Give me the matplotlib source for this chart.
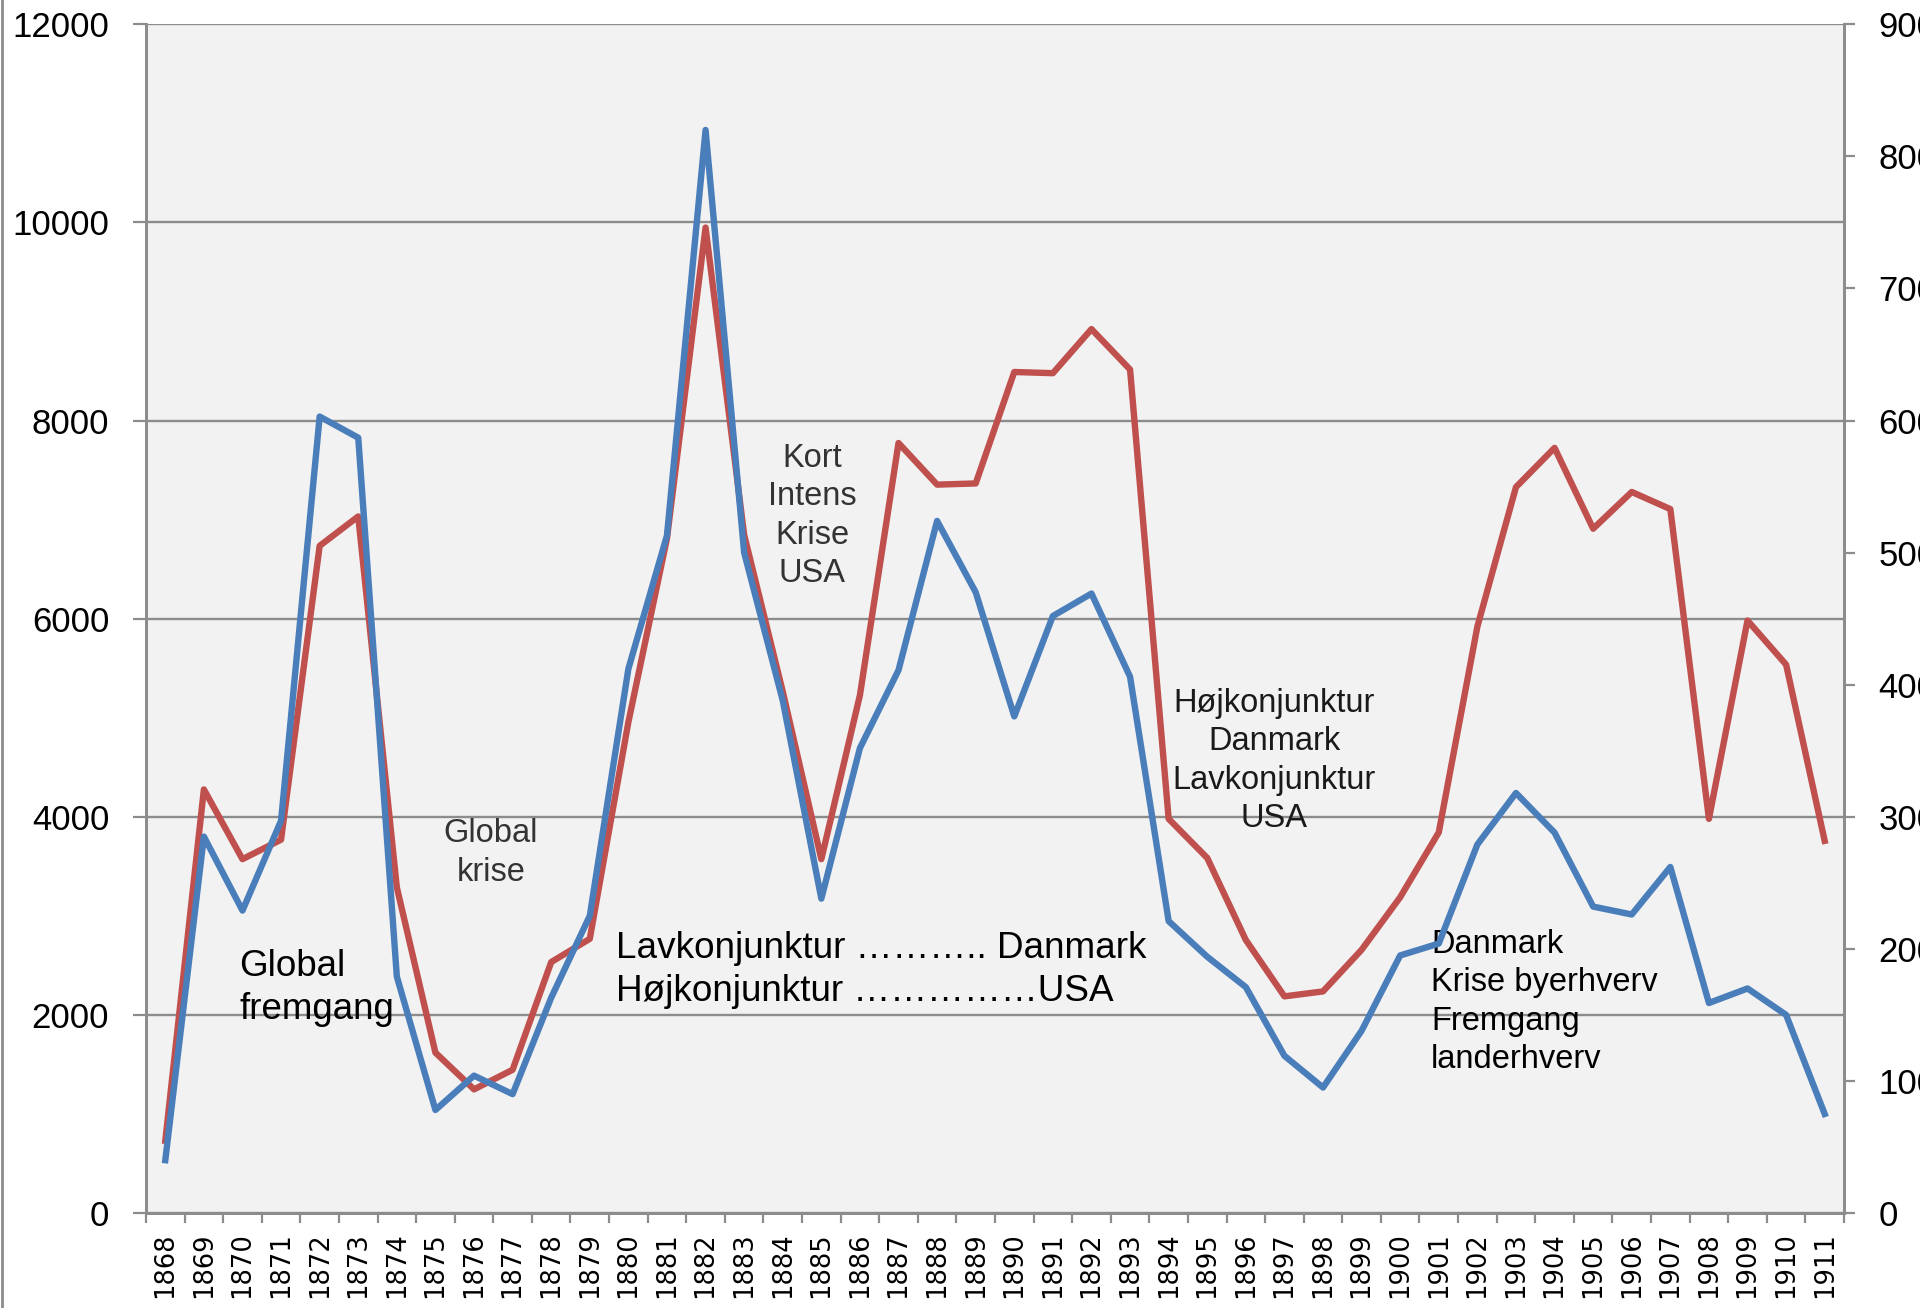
import matplotlib.pyplot as plt
import numpy as np
from matplotlib.lines import Line2D

# Data
years = list(range(1868, 1912))

# red series, left axis (0-12000)
red_vals = [729, 4276, 3572, 3769, 6735, 7032, 3287, 1619, 1248, 1446,
            2533, 2768, 4956, 6809, 9948, 6846, 5264, 3572, 5227, 7773,
            7353, 7365, 8490, 8478, 8923, 8515, 3979, 3584, 2756, 2187,
            2237, 2657, 3188, 3843, 5920, 7328, 7724, 6908, 7279, 7106,
            3979, 5981, 5536, 3757]

# blue series, right axis (0-900)
blue_vals = [40, 285, 229, 297, 603, 587, 179, 78, 104, 90,
             163, 225, 412, 513, 820, 500, 388, 238, 352, 411,
             524, 470, 376, 452, 469, 406, 221, 194, 171, 119,
             95, 138, 195, 204, 279, 318, 288, 232, 226, 262,
             159, 170, 150, 75]

left_ticks = [0, 2000, 4000, 6000, 8000, 10000, 12000]
right_ticks = [0, 100, 200, 300, 400, 500, 600, 700, 800, 900]

RED = "#C0504D"
BLUE = "#4A7EBB"
GRID = "#8C8C8C"
BG = "#F2F2F2"
TEXT_FONT = ["Liberation Sans", "DejaVu Sans"]

fig = plt.figure(figsize=(19.2, 13.08), dpi=100)
ax = fig.add_axes([0.07604, 0.07263, 0.88437, 0.90879])
ax.set_facecolor(BG)

x = np.arange(len(years))
ax.plot(x, red_vals, color=RED, lw=4.6)

ax.set_xlim(-0.5, len(years) - 0.5)
ax.set_ylim(0, 12000)
ax.set_yticks(left_ticks)
ax.set_yticklabels([str(v) for v in left_ticks], fontsize=25, family=TEXT_FONT)
ax.yaxis.grid(True, color=GRID, lw=1.7)
ax.set_axisbelow(True)

# category ticks between years, labels centred on years
ax.set_xticks(np.arange(-0.5, len(years), 1))
ax.set_xticklabels([])
ax.set_xticks(x, minor=True)
ax.set_xticklabels([str(y) for y in years], minor=True, rotation=90,
                   fontsize=18.5, family="DejaVu Sans")
ax.tick_params(axis="x", which="major", length=7, width=1.6, color=GRID)
ax.tick_params(axis="x", which="minor", length=0, pad=14)
ax.tick_params(axis="y", length=9.5, width=1.6, color=GRID, pad=17)

for side in ["left", "bottom", "right"]:
    ax.spines[side].set_color(GRID)
    ax.spines[side].set_linewidth(2)
ax.spines["top"].set_visible(False)

ax2 = ax.twinx()
ax2.plot(x, blue_vals, color=BLUE, lw=4.6)
ax2.set_ylim(0, 900)
ax2.set_yticks(right_ticks)
ax2.set_yticklabels([str(v) for v in right_ticks], fontsize=25, family=TEXT_FONT)
ax2.tick_params(axis="y", length=8, width=1.6, color=GRID, pad=17)
for side in ["left", "bottom", "right"]:
    ax2.spines[side].set_color(GRID)
    ax2.spines[side].set_linewidth(2)
ax2.spines["top"].set_visible(False)

# annotations
ax.text(1.91, 2271, "Global\nfremgang", ha="left", va="center",
        fontsize=26.5, family=TEXT_FONT, linespacing=1.3)
ax.text(8.44, 3634, "Global\nkrise", ha="center", va="center",
        fontsize=23.5, family=TEXT_FONT, color="#333333", linespacing=1.3)
ax.text(16.76, 7036, "Kort\nIntens\nKrise\nUSA", ha="center", va="center",
        fontsize=23.5, family=TEXT_FONT, color="#333333", linespacing=1.3)
ax.text(11.68, 2453,
        "Lavkonjunktur \u2026\u2026\u2026.. Danmark\nH\u00f8jkonjunktur \u2026\u2026\u2026\u2026\u2026USA",
        ha="left", va="center", fontsize=26.6, family=TEXT_FONT, linespacing=1.3)
ax.text(28.73, 4563, "H\u00f8jkonjunktur\nDanmark\nLavkonjunktur\nUSA",
        ha="center", va="center", fontsize=23.5, family=TEXT_FONT,
        color="#1a1a1a", linespacing=1.3)
ax.text(32.80, 2130, "Danmark\nKrise byerhverv\nFremgang\nlanderhverv",
        ha="left", va="center", fontsize=23.5, family=TEXT_FONT, linespacing=1.3)

# thin border on the left edge of the picture
fig.add_artist(Line2D([0.0008, 0.0008], [0, 1], transform=fig.transFigure,
                      color=GRID, lw=2))

fig.savefig("out.png", dpi=100)
